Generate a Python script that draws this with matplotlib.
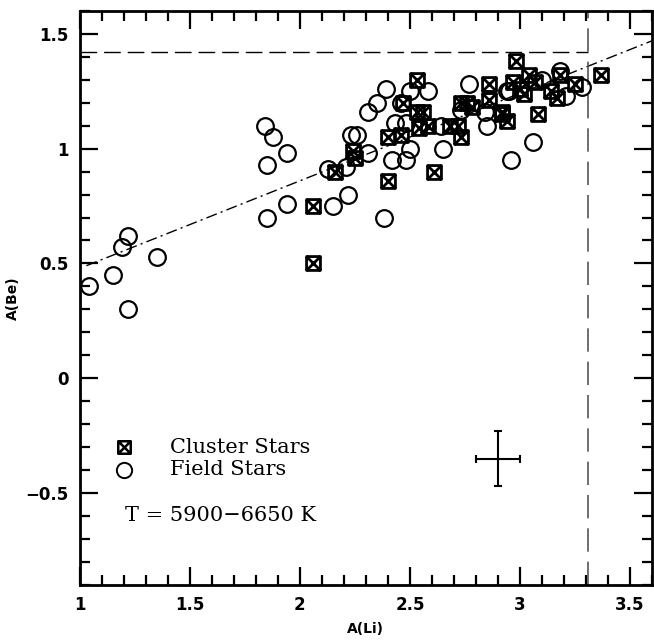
import numpy as np
import matplotlib
matplotlib.use("Agg")
import matplotlib.pyplot as plt
from matplotlib.path import Path
from matplotlib.ticker import MultipleLocator

# cluster stars (boxed X)
cl_li = [2.06, 2.06, 2.16, 2.24, 2.25, 2.40, 2.40, 2.46, 2.53, 2.47, 2.53, 2.56,
         2.54, 2.58, 2.61, 2.68, 2.72, 2.73, 2.73, 2.76, 2.78, 2.86, 2.86, 2.92,
         2.94, 2.98, 2.97, 3.00, 3.02, 3.04, 3.07, 3.08, 3.14, 3.17, 3.18, 3.25,
         3.37, 2.92]
cl_be = [0.75, 0.50, 0.90, 0.99, 0.96, 1.05, 0.86, 1.06, 1.30, 1.20, 1.16, 1.16,
         1.09, 1.10, 0.90, 1.10, 1.10, 1.05, 1.20, 1.20, 1.18, 1.28, 1.21, 1.15,
         1.12, 1.38, 1.29, 1.26, 1.24, 1.32, 1.29, 1.15, 1.25, 1.22, 1.32, 1.28,
         1.32, 1.16]

# field stars (open circles)
fd_li = [1.04, 1.15, 1.19, 1.22, 1.22, 1.35, 1.84, 1.88, 1.85, 1.94, 1.85, 1.94,
         2.13, 2.15, 2.21, 2.22, 2.23, 2.26, 2.31, 2.31, 2.35, 2.39, 2.38, 2.42,
         2.43, 2.46, 2.48, 2.48, 2.50, 2.50, 2.58, 2.65, 2.64, 2.73, 2.77, 2.84,
         2.85, 2.95, 2.96, 3.06, 3.10, 3.18, 3.21, 3.28, 2.94]
fd_be = [0.40, 0.45, 0.57, 0.62, 0.30, 0.53, 1.10, 1.05, 0.93, 0.98, 0.70, 0.76,
         0.91, 0.75, 0.92, 0.80, 1.06, 1.06, 0.98, 1.16, 1.20, 1.26, 0.70, 0.95,
         1.11, 1.20, 1.11, 0.95, 1.00, 1.25, 1.25, 1.00, 1.10, 1.17, 1.28, 1.16,
         1.10, 1.25, 0.95, 1.03, 1.30, 1.34, 1.23, 1.27, 1.25]

fit_li = [1.03, 3.60]
fit_be = [0.49, 1.47]

li_limit = 3.31
be_limit = 1.42

err_li, err_be = 2.90, -0.35
err_dli, err_dbe = 0.10, 0.12

# square with an X through it
box_x = Path([(-1, -1), (1, -1), (1, 1), (-1, 1), (-1, -1),
              (-1, -1), (1, 1), (-1, 1), (1, -1)],
             [Path.MOVETO, Path.LINETO, Path.LINETO, Path.LINETO, Path.CLOSEPOLY,
              Path.MOVETO, Path.LINETO, Path.MOVETO, Path.LINETO])

fig = plt.figure(figsize=(6.54, 6.44), dpi=100)
ax = fig.add_axes([0.122, 0.092, 0.875, 0.891])

ax.plot(fit_li, fit_be, color='black', lw=1.0, ls=(0, (8, 3, 1.5, 3)))
ax.plot([1.0, li_limit], [be_limit, be_limit], color='black', lw=1.0, ls=(0, (12, 5)))
ax.axvline(li_limit, color='#555555', lw=1.2, ls=(0, (14, 6)))

ax.plot(fd_li, fd_be, 'o', ms=12, mfc='none', mec='black', mew=1.6)
ax.plot(cl_li, cl_be, ls='none', marker=box_x, ms=10, mfc='none', mec='black', mew=2.0)

ax.errorbar([err_li], [err_be], xerr=[err_dli], yerr=[err_dbe], fmt='none',
            ecolor='black', elinewidth=1.5, capsize=3, capthick=1.5)

# legend drawn as text
ax.plot([1.20], [-0.30], ls='none', marker=box_x, ms=9, mfc='none', mec='black', mew=1.8)
ax.plot([1.20], [-0.40], 'o', ms=11, mfc='none', mec='black', mew=1.4)
ax.text(1.41, -0.30, 'Cluster Stars', fontsize=15, family='DejaVu Serif', va='center')
ax.text(1.41, -0.40, 'Field Stars', fontsize=15, family='DejaVu Serif', va='center')
ax.text(1.205, -0.60, 'T = 5900\u22126650 K', fontsize=15, family='DejaVu Serif', va='center')

ax.set_xlim(1.0, 3.6)
ax.set_ylim(-0.9, 1.6)
ax.xaxis.set_major_locator(MultipleLocator(0.5))
ax.xaxis.set_minor_locator(MultipleLocator(0.1))
ax.yaxis.set_major_locator(MultipleLocator(0.5))
ax.yaxis.set_minor_locator(MultipleLocator(0.1))
ax.set_xticks([1, 1.5, 2, 2.5, 3, 3.5])
ax.set_xticklabels(['1', '1.5', '2', '2.5', '3', '3.5'])
ax.set_yticks([-0.5, 0, 0.5, 1, 1.5])
ax.set_yticklabels(['\u22120.5', '0', '0.5', '1', '1.5'])
ax.tick_params(which='both', direction='in', top=True, right=True, width=1.6)
ax.tick_params(which='major', length=13, labelsize=12, pad=8)
ax.tick_params(which='minor', length=7)
for lab in ax.get_xticklabels() + ax.get_yticklabels():
    lab.set_fontweight('bold')
for s in ax.spines.values():
    s.set_linewidth(2.0)

ax.set_xlabel('A(Li)', fontsize=10, fontweight='bold', labelpad=6)
ax.set_ylabel('A(Be)', fontsize=10, fontweight='bold', labelpad=4)

fig.savefig('out.png', dpi=100)
